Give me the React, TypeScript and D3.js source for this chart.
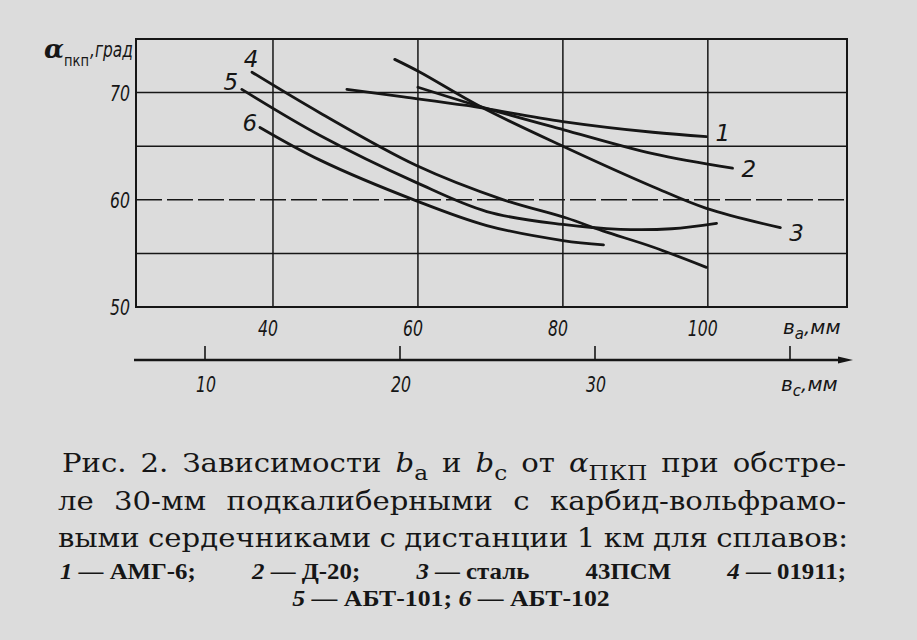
import React, { useEffect, useRef } from 'react';
import * as d3 from 'd3';

const W = 917;
const H = 640;

// ---- axis data ----
const baTicks = [40, 60, 80, 100];
const bcTicks = [10, 20, 30, 40];
const bcTickLabels = ['10', '20', '30', ''];
const alphaTickValues = [50, 60, 70];
const alphaGridValues = [55, 60, 65, 70];
const alphaDashed = [60];

// ---- series (x: b_a, mm ; y: alpha_pkp, deg) ----
const curve1: [number, number][] = [[50.2, 70.3], [58, 69.6], [66.7, 68.8], [80, 67.3], [92.4, 66.3], [99.8, 65.9]];
const curve2: [number, number][] = [[60, 70.5], [68.6, 68.7], [80, 66.55], [92.4, 64.3], [103.4, 62.95]];
const curve3: [number, number][] = [[56.8, 73.1], [60.3, 71.9], [68.6, 68.7], [80, 65.0], [92.5, 61.2], [99.8, 59.2], [110, 57.4]];
const curve4: [number, number][] = [[37.1, 71.9], [46.5, 68.1], [59.8, 63.2], [71.8, 60.0], [80.5, 58.3], [85.5, 57.1], [92.4, 55.6], [99.8, 53.7]];
const curve5: [number, number][] = [[35.7, 70.3], [46.5, 66.0], [59.8, 61.6], [69.5, 58.9], [80, 57.7], [87.9, 57.25], [95, 57.3], [101.2, 57.8]];
const curve6: [number, number][] = [[38.2, 66.75], [46.5, 63.7], [59.8, 59.9], [69.5, 57.6], [80, 56.2], [85.6, 55.8]];

const seriesNames = ['1', '2', '3', '4', '5', '6'];
const seriesData = [curve1, curve2, curve3, curve4, curve5, curve6];
// which end of the curve the number sits at
const labelAtEnd = [true, true, true, false, false, false];
const labelOffsets: [number, number][] = [[9, 4], [9, 9], [9, 13], [-1, -5], [-11, 1], [-10, 4]];

// ---- caption ----
type Part = { t: string; it?: boolean; sub?: boolean };
const captionLine1: Part[][] = [
  [{ t: 'Рис.' }], [{ t: '2.' }], [{ t: 'Зависимости' }],
  [{ t: 'b', it: true }, { t: 'a', sub: true }], [{ t: 'и' }],
  [{ t: 'b', it: true }, { t: 'c', sub: true }], [{ t: 'от' }],
  [{ t: 'α', it: true }, { t: 'ПКП', sub: true }], [{ t: 'при' }], [{ t: 'обстре-' }],
];
const captionLine2: Part[][] = [
  [{ t: 'ле' }], [{ t: '30-мм' }], [{ t: 'подкалиберными' }], [{ t: 'с' }], [{ t: 'карбид-вольфрамо-' }],
];
const captionLine3: Part[][] = [
  [{ t: 'выми' }], [{ t: 'сердечниками' }], [{ t: 'с' }], [{ t: 'дистанции' }], [{ t: '1' }], [{ t: 'км' }], [{ t: 'для' }], [{ t: 'сплавов:' }],
];
const captionLine4: Part[][] = [
  [{ t: '1', it: true }, { t: ' — АМГ-6;' }],
  [{ t: '2', it: true }, { t: ' — Д-20;' }],
  [{ t: '3', it: true }, { t: ' — сталь' }],
  [{ t: '43ПСМ' }],
  [{ t: '4', it: true }, { t: ' — 01911;' }],
];
const captionLine5: Part[] = [
  { t: '5', it: true }, { t: ' — АБТ-101; ' }, { t: '6', it: true }, { t: ' — АБТ-102' },
];

const INK = '#161616';
const PAPER = '#dcdcdc';

export default function App() {
  const ref = useRef<SVGSVGElement | null>(null);

  useEffect(() => {
    const svg = d3.select(ref.current);
    svg.selectAll('*').remove();

    svg.append('rect').attr('width', W).attr('height', H).attr('fill', PAPER);

    const x = d3.scaleLinear().domain([21.1, 119.2]).range([136, 847]);
    const y = d3.scaleLinear().domain([50, 75]).range([307, 39]);
    const xc = d3.scaleLinear().domain([10, 40]).range([205, 790]);

    const [x0, x1] = x.range();
    const [y0, y1] = y.range();

    const g = svg.append('g');

    // grid
    g.selectAll('line.hg').data(alphaGridValues).enter().append('line')
      .attr('x1', x0).attr('x2', x1)
      .attr('y1', (d) => y(d)).attr('y2', (d) => y(d))
      .attr('stroke', INK).attr('stroke-width', 1.5)
      .attr('stroke-dasharray', (d) => (alphaDashed.includes(d) ? '26,5' : null));
    g.selectAll('line.vg').data(baTicks).enter().append('line')
      .attr('x1', (d) => x(d)).attr('x2', (d) => x(d))
      .attr('y1', y1).attr('y2', y0)
      .attr('stroke', INK).attr('stroke-width', 1.5);
    // frame
    g.append('rect').attr('x', x0).attr('y', y1).attr('width', x1 - x0).attr('height', y0 - y1)
      .attr('fill', 'none').attr('stroke', INK).attr('stroke-width', 2);

    const tickFont = 'DejaVu Sans';
    // y tick labels
    g.selectAll('text.yt').data(alphaTickValues).enter().append('text')
      .attr('x', 130).attr('y', (d) => y(d) + 8)
      .attr('text-anchor', 'end')
      .attr('font-family', tickFont).attr('font-style', 'italic').attr('font-size', 22)
      .attr('fill', INK)
      .attr('textLength', 20).attr('lengthAdjust', 'spacingAndGlyphs')
      .text((d) => String(d));

    // x tick labels (b_a)
    g.selectAll('text.xt').data(baTicks).enter().append('text')
      .attr('x', (d) => x(d) - 5).attr('y', 336)
      .attr('text-anchor', 'middle')
      .attr('font-family', tickFont).attr('font-style', 'italic').attr('font-size', 22)
      .attr('fill', INK)
      .attr('textLength', (d) => (String(d).length > 2 ? 30 : 20)).attr('lengthAdjust', 'spacingAndGlyphs')
      .text((d) => String(d));

    // b_a axis title
    const ba = g.append('text').attr('x', 783).attr('y', 334)
      .attr('font-family', tickFont).attr('font-style', 'italic').attr('font-size', 20).attr('fill', INK);
    ba.append('tspan').text('в');
    ba.append('tspan').attr('dy', 5).attr('font-size', 15).text('а');
    ba.append('tspan').attr('dy', -5).text(',мм');

    // second axis (b_c)
    const axisY = 360;
    g.append('line').attr('x1', 134).attr('x2', 842).attr('y1', axisY).attr('y2', axisY)
      .attr('stroke', INK).attr('stroke-width', 2.5);
    g.append('path').attr('d', `M838,${axisY - 3.5} L853,${axisY} L838,${axisY + 3.5} Z`).attr('fill', INK);
    g.selectAll('line.ct').data(bcTicks).enter().append('line')
      .attr('x1', (d) => xc(d)).attr('x2', (d) => xc(d))
      .attr('y1', axisY - 14).attr('y2', axisY)
      .attr('stroke', INK).attr('stroke-width', 1.6);
    g.selectAll('text.ctl').data(bcTicks).enter().append('text')
      .attr('x', (d) => xc(d) + 1).attr('y', 392)
      .attr('text-anchor', 'middle')
      .attr('font-family', tickFont).attr('font-style', 'italic').attr('font-size', 22)
      .attr('fill', INK)
      .attr('textLength', (d, i) => (bcTickLabels[i] ? 20 : null)).attr('lengthAdjust', 'spacingAndGlyphs')
      .text((d, i) => bcTickLabels[i]);
    const bc = g.append('text').attr('x', 781).attr('y', 391)
      .attr('font-family', tickFont).attr('font-style', 'italic').attr('font-size', 20).attr('fill', INK);
    bc.append('tspan').text('в');
    bc.append('tspan').attr('dy', 5).attr('font-size', 15).text('с');
    bc.append('tspan').attr('dy', -5).text(',мм');

    // y axis title
    g.append('text').attr('x', 44).attr('y', 58).attr('fill', INK)
      .attr('font-family', 'DejaVu Serif').attr('font-style', 'italic').attr('font-weight', 'bold')
      .attr('font-size', 26).text('α');
    g.append('text').attr('x', 64).attr('y', 66).attr('fill', INK)
      .attr('font-family', 'DejaVu Sans').attr('font-size', 15)
      .attr('textLength', 25).attr('lengthAdjust', 'spacingAndGlyphs').text('пкп');
    g.append('text').attr('x', 90).attr('y', 57).attr('fill', INK)
      .attr('font-family', tickFont).attr('font-style', 'italic').attr('font-size', 21)
      .attr('textLength', 43).attr('lengthAdjust', 'spacingAndGlyphs').text(',град');

    // curves
    const line = d3.line<[number, number]>()
      .x((d) => x(d[0])).y((d) => y(d[1]))
      .curve(d3.curveCatmullRom.alpha(0.5));
    seriesData.forEach((data, i) => {
      g.append('path').attr('d', line(data) as string)
        .attr('fill', 'none').attr('stroke', INK).attr('stroke-width', 2.8)
        .attr('stroke-linecap', 'round');
      const p = labelAtEnd[i] ? data[data.length - 1] : data[0];
      const [dx, dy] = labelOffsets[i];
      g.append('text')
        .attr('x', x(p[0]) + dx).attr('y', y(p[1]) + dy)
        .attr('text-anchor', labelAtEnd[i] ? 'start' : 'middle')
        .attr('font-family', tickFont).attr('font-style', 'italic').attr('font-size', 23)
        .attr('fill', INK)
        .text(seriesNames[i]);
    });

    // caption
    const cap = svg.append('g').attr('fill', INK);
    const buildWord = (parent: any, parts: Part[], size: number, family: string, weight: string) => {
      const t = parent.append('text')
        .attr('font-family', family).attr('font-size', size).attr('font-weight', weight)
        .style('white-space', 'pre');
      let shifted = 0;
      parts.forEach((p) => {
        const ts = t.append('tspan').text(p.t);
        if (p.it) ts.attr('font-style', 'italic');
        if (p.sub) {
          ts.attr('font-size', size * 0.8).attr('dy', size * 0.3);
          shifted += size * 0.3;
        } else if (shifted) {
          ts.attr('dy', -shifted);
          shifted = 0;
        }
      });
      return t;
    };
    const justify = (words: Part[][], left: number, right: number, base: number, size: number,
      family: string, weight: string, stretch: number) => {
      const nodes = words.map((w) => buildWord(cap, w, size, family, weight));
      const widths = nodes.map((n) => (n.node() as SVGTextElement).getComputedTextLength() * stretch);
      const total = d3.sum(widths);
      let gap = (right - left - total) / Math.max(1, words.length - 1);
      let scale = 1;
      if (gap < 8) {
        gap = 8;
        scale = (right - left - gap * (words.length - 1)) / total;
      }
      let cx = left;
      nodes.forEach((n, i) => {
        n.attr('x', cx).attr('y', base)
          .attr('textLength', widths[i] * scale).attr('lengthAdjust', 'spacingAndGlyphs');
        cx += widths[i] * scale + gap;
      });
    };
    const serif = 'DejaVu Serif';
    justify(captionLine1, 62, 846, 472, 26, serif, 'normal', 1.12);
    justify(captionLine2, 58, 846, 510, 26, serif, 'normal', 1.12);
    justify(captionLine3, 58, 848, 547, 26, serif, 'normal', 1.12);
    justify(captionLine4, 60, 846, 579, 23, 'Liberation Serif', 'bold', 1.08);
    const l5 = buildWord(cap, captionLine5, 23, 'Liberation Serif', 'bold');
    const w5 = (l5.node() as SVGTextElement).getComputedTextLength();
    l5.attr('x', 451 - (w5 * 1.12) / 2).attr('y', 606)
      .attr('textLength', w5 * 1.12).attr('lengthAdjust', 'spacingAndGlyphs');
  }, []);

  return (
    <svg
      ref={ref}
      width={W}
      height={H}
      viewBox={`0 0 ${W} ${H}`}
      style={{ position: 'absolute', left: 0, top: 0, display: 'block' }}
    />
  );
}
